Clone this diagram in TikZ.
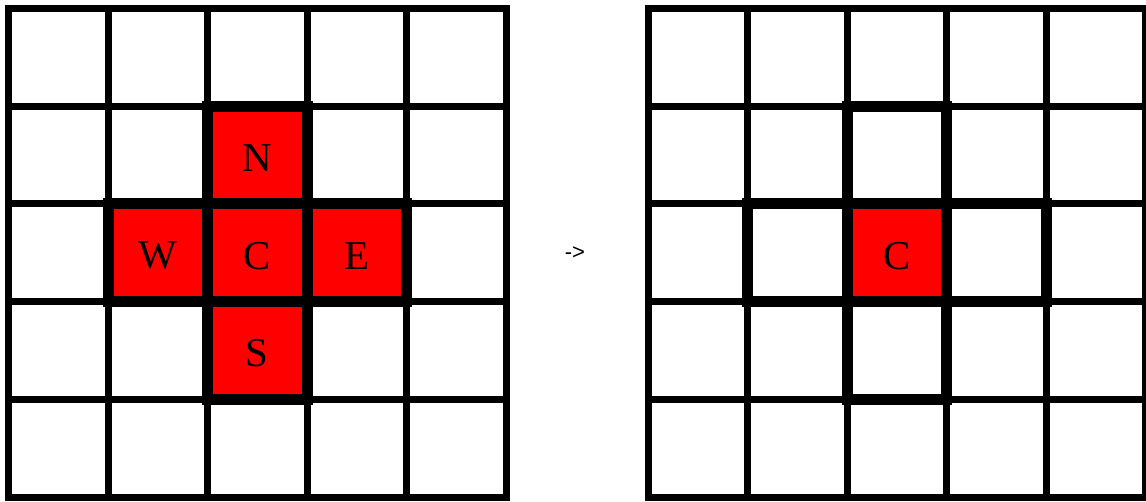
\documentclass[tikz,border=0pt]{standalone}
\usepackage{fontspec}
\setmainfont{Liberation Serif}
\newfontfamily\signfont{Liberation Sans}

\begin{document}
\begin{tikzpicture}[x=1pt, y=-1pt,
      gridline/.style={line width=7pt, line cap=rect},
      cellmark/.style={line width=11pt, line join=miter},
      hot/.style={fill=red},
      letter/.style={font=\fontsize{41}{41}\selectfont, inner sep=0pt, yshift=-3pt},
      sign/.style={font=\signfont\fontsize{22}{22}\selectfont, inner sep=0pt}]
    \useasboundingbox (0,0) rectangle (1146,501);

    % left grid: C with its four neighbours
    \begin{scope}[shift={(8.5,8.5)}, x=99.5pt, y=-97.7pt]
      \foreach \c/\r in {2/1, 1/2, 2/2, 3/2, 2/3}
        \fill[hot] (\c,\r) rectangle ++(1,1);
      \foreach \i in {0,...,5} {
        \draw[gridline] (\i,0) -- (\i,5);
        \draw[gridline] (0,\i) -- (5,\i);
      }
      \foreach \c/\r in {2/1, 1/2, 2/2, 3/2, 2/3}
        \draw[cellmark] (\c,\r) rectangle ++(1,1);
      \node[letter] (north) at (2.5,1.5) {N};
      \node[letter] (west) at (1.5,2.5) {W};
      \node[letter] (centre) at (2.5,2.5) {C};
      \node[letter] (east) at (3.5,2.5) {E};
      \node[letter] (south) at (2.5,3.5) {S};
    \end{scope}

    \node[sign] (arrowsign) at (575,253) {->};

    % right grid: only C stays
    \begin{scope}[shift={(648,8.5)}, x=99.5pt, y=-97.7pt]
      \fill[hot] (2,2) rectangle ++(1,1);
      \foreach \i in {0,...,5} {
        \draw[gridline] (\i,0) -- (\i,5);
        \draw[gridline] (0,\i) -- (5,\i);
      }
      \foreach \c/\r in {2/1, 1/2, 2/2, 3/2, 2/3}
        \draw[cellmark] (\c,\r) rectangle ++(1,1);
      \node[letter] (centre2) at (2.5,2.5) {C};
    \end{scope}
\end{tikzpicture}
\end{document}
